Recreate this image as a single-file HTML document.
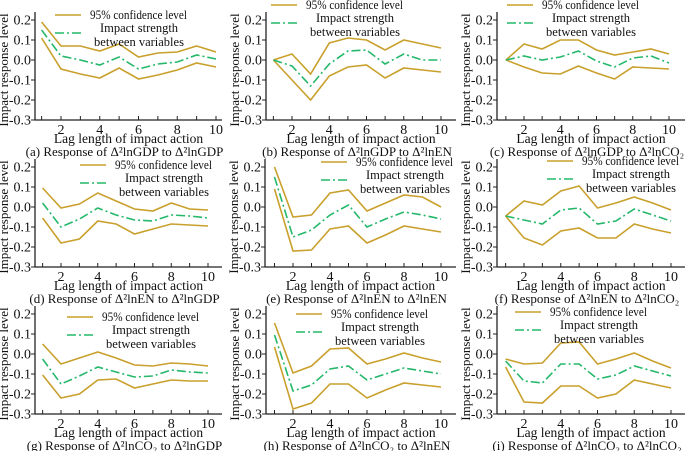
<!DOCTYPE html>
<html><head><meta charset="utf-8"><style>
html,body{margin:0;padding:0;background:#fff;}
svg{display:block;font-family:"Liberation Serif",serif;}
</style></head><body>
<svg id="chart" width="685" height="451" viewBox="0 0 685 451" xmlns="http://www.w3.org/2000/svg"></svg>
<script>
const lags = [1,2,3,4,5,6,7,8,9,10];
const yTicks = [0.2,0.1,0.0,-0.1,-0.2,-0.3];
const yTickLabels = ["0.2","0.1","0.0","-0.1","-0.2","-0.3"];
const xTicks = [2,4,6,8,10];
const captions = [
 "(a) Response of Δ²lnGDP to Δ²lnGDP","(b) Response of Δ²lnGDP to Δ²lnEN","(c) Response of Δ²lnGDP to Δ²lnCO₂",
 "(d) Response of Δ²lnEN to Δ²lnGDP","(e) Response of Δ²lnEN to Δ²lnEN","(f) Response of Δ²lnEN to Δ²lnCO₂",
 "(g) Response of Δ²lnCO₂ to Δ²lnGDP","(h) Response of Δ²lnCO₂ to Δ²lnEN","(i) Response of Δ²lnCO₂ to Δ²lnCO₂"];
const upperA=[0.19,0.07,0.07,0.045,0.08,0.015,0.035,0.04,0.07,0.04];
const lowerA=[0.11,-0.045,-0.07,-0.09,-0.04,-0.095,-0.075,-0.05,-0.015,-0.035];
const midA=[0.15,0.02,0.0,-0.025,0.015,-0.045,-0.02,-0.01,0.025,0.005];
const upperB=[0,0.03,-0.07,0.085,0.11,0.10,0.05,0.10,0.08,0.06];
const lowerB=[0,-0.10,-0.20,-0.08,-0.035,-0.025,-0.09,-0.04,-0.05,-0.06];
const midB=[0,-0.03,-0.13,-0.02,0.045,0.05,-0.02,0.03,0.0,0.0];
const upperC=[0,0.08,0.055,0.10,0.10,0.05,0.025,0.04,0.055,0.03];
const lowerC=[0,-0.035,-0.065,-0.07,-0.03,-0.065,-0.095,-0.035,-0.04,-0.045];
const midC=[0,0.02,0,0.015,0.045,-0.005,-0.035,0.01,0.02,-0.015];
const upperD=[0.095,-0.005,0.015,0.07,0.03,-0.01,-0.02,0.02,-0.01,-0.015];
const lowerD=[-0.055,-0.18,-0.16,-0.07,-0.085,-0.135,-0.11,-0.085,-0.09,-0.095];
const midD=[0.02,-0.10,-0.06,-0.005,-0.04,-0.065,-0.07,-0.04,-0.045,-0.055];
const upperE=[0.20,-0.05,-0.04,0.07,0.085,-0.02,0.02,0.06,0.05,0.0];
const lowerE=[0.09,-0.22,-0.215,-0.11,-0.095,-0.18,-0.14,-0.095,-0.11,-0.125];
const midE=[0.15,-0.15,-0.115,-0.04,0.01,-0.10,-0.06,-0.025,-0.04,-0.06];
const upperF=[-0.045,0.03,0.01,0.08,0.105,-0.005,0.02,0.05,0.02,-0.015];
const lowerF=[-0.045,-0.155,-0.19,-0.12,-0.105,-0.155,-0.155,-0.085,-0.11,-0.13];
const midF=[-0.045,-0.065,-0.085,-0.015,-0.005,-0.085,-0.07,-0.01,-0.04,-0.07];
const upperG=[0.05,-0.05,-0.02,0.01,-0.02,-0.055,-0.06,-0.045,-0.05,-0.06];
const lowerG=[-0.105,-0.22,-0.20,-0.13,-0.125,-0.17,-0.15,-0.13,-0.135,-0.135];
const midG=[-0.025,-0.15,-0.11,-0.065,-0.09,-0.115,-0.11,-0.08,-0.09,-0.095];
const upperH=[0.155,-0.095,-0.06,0.025,0.03,-0.05,-0.025,0.005,-0.02,-0.04];
const lowerH=[0.035,-0.275,-0.245,-0.15,-0.15,-0.22,-0.18,-0.145,-0.155,-0.165];
const midH=[0.095,-0.185,-0.155,-0.075,-0.06,-0.13,-0.10,-0.07,-0.085,-0.10];
const upperI=[-0.025,-0.05,-0.045,0.055,0.06,-0.05,-0.025,0.005,-0.035,-0.07];
const lowerI=[-0.065,-0.24,-0.245,-0.16,-0.16,-0.22,-0.2,-0.13,-0.15,-0.17];
const midI=[-0.035,-0.135,-0.145,-0.05,-0.05,-0.125,-0.105,-0.06,-0.085,-0.11];

const series=[[upperA,lowerA,midA],[upperB,lowerB,midB],[upperC,lowerC,midC],
 [upperD,lowerD,midD],[upperE,lowerE,midE],[upperF,lowerF,midF],
 [upperG,lowerG,midG],[upperH,lowerH,midH],[upperI,lowerI,midI]];
// layout: axisX, axisEnd, x2px, x10px, topY(0.2), legendLineX, legendY
const layout=[
 [35,222,61,216,20,55,15],[266,456,292,441,20,271,5],[497,685,524,669,20,507,5],
 [35,222,61,208,167,80,165],[265,456,293,441,167,321,162],[497,685,524,671,167,547,161],
 [35,222,61,208,314,67,317],[266,456,293,441,314,296,314],[497,685,524,671,314,515,312]];
const NS="http://www.w3.org/2000/svg";
const svg=document.getElementById('chart');
const GOLD="#c9a02c", GREEN="#25b86a";
function mk(tag,attrs,parent){const e=document.createElementNS(NS,tag);for(const k in attrs)e.setAttribute(k,attrs[k]);(parent||svg).appendChild(e);return e;}
series.forEach((s,i)=>{
 const [ax,aend,x2,x10,top,lx,ly]=layout[i];
 const step=(x10-x2)/8;
 const xs=v=>x2+(v-2)*step;
 const ys=v=>top+(0.2-v)*200;
 const bottom=ys(-0.3);
 const g=mk('g',{});
 
 
 const ya=mk('line',{x1:ax,y1:top-8,x2:ax,y2:bottom,stroke:'#222','stroke-width':1.3},g);
 
 
 const xa=mk('line',{x1:ax,y1:bottom,x2:aend,y2:bottom,stroke:'#222','stroke-width':1.3},g);
 
 
 yTicks.forEach((t,k)=>{
  const y=ys(t);
  mk('line',{x1:ax-4,y1:y,x2:ax,y2:y,stroke:'#222','stroke-width':1},g);
  const tx=mk('text',{x:ax-4,y:y+4.5,'text-anchor':'end','font-size':14,fill:'#111'},g);
  tx.textContent=yTickLabels[k];
  
  
 });
 lags.forEach(l=>{mk('line',{x1:xs(l),y1:bottom,x2:xs(l),y2:bottom-4,stroke:'#222','stroke-width':1},g);});
 xTicks.forEach(t=>{
  const tx=mk('text',{x:xs(t),y:bottom+14,'text-anchor':'middle','font-size':14,fill:'#111'},g);
  tx.textContent=String(t);
  
  
 });
 const yt=mk('text',{x:0,y:0,'text-anchor':'middle','font-size':13,fill:'#111',transform:`translate(${ax-27},${(top+bottom)/2}) rotate(-90)`},g);
 yt.textContent='Impact response level';
 
 
 const cx=(ax+aend)/2;
 const xt=mk('text',{x:cx,y:bottom+23,'text-anchor':'middle','font-size':13.5,fill:'#111'},g);
 xt.textContent='Lag length of impact action';
 
 
 const cap=mk('text',{x:cx-4,y:bottom+36,'text-anchor':'middle','font-size':13,fill:'#111'},g);
 cap.textContent=captions[i];
 
 
 const pts=arr=>arr.map((v,k)=>xs(lags[k]).toFixed(1)+','+ys(v).toFixed(1)).join(' ');
 const up=mk('polyline',{points:pts(s[0]),fill:'none',stroke:GOLD,'stroke-width':1.6},g);
 
 
 const lo=mk('polyline',{points:pts(s[1]),fill:'none',stroke:GOLD,'stroke-width':1.6},g);
 
 
 const md=mk('polyline',{points:pts(s[2]),fill:'none',stroke:GREEN,'stroke-width':1.6,'stroke-dasharray':'9,3,2,3'},g);
 
 
 const lg=mk('g',{},g);
 
 
 mk('line',{x1:lx,y1:ly,x2:lx+26,y2:ly,stroke:GOLD,'stroke-width':1.6},lg);
 mk('line',{x1:lx,y1:ly+18,x2:lx+26,y2:ly+18,stroke:GREEN,'stroke-width':1.6,'stroke-dasharray':'9,3,2,3'},lg);
 const tx0=lx+35;
 const l1=mk('text',{x:tx0,y:ly+4,'font-size':12.5,fill:'#111',textLength:97,lengthAdjust:'spacingAndGlyphs'},lg);
 l1.textContent='95% confidence level';
 
 
 const l2=mk('text',{x:tx0+49,y:ly+17,'text-anchor':'middle','font-size':12.5,fill:'#111'},lg);
 l2.textContent='Impact strength';
 
 
 const l3=mk('text',{x:tx0+49,y:ly+31,'text-anchor':'middle','font-size':12.5,fill:'#111'},lg);
 l3.textContent='between variables';
 
 
});
</script>
</body></html>
